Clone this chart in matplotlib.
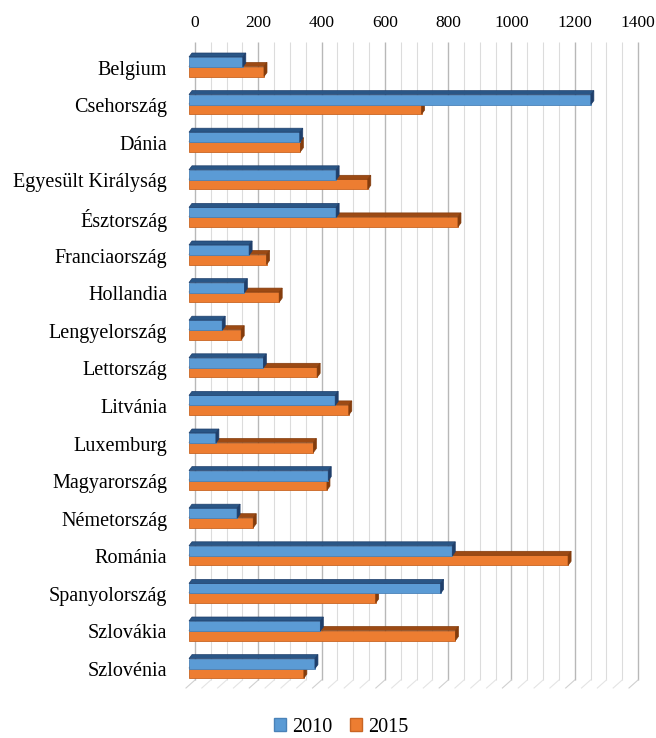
import numpy as np
import matplotlib.pyplot as plt
from matplotlib.patches import Polygon, Patch

plt.rcParams['font.family'] = ['Liberation Serif', 'DejaVu Serif']

orszagok = ['Belgium', 'Csehország', 'Dánia', 'Egyesült Királyság', 'Észtország',
            'Franciaország', 'Hollandia', 'Lengyelország', 'Lettország', 'Litvánia',
            'Luxemburg', 'Magyarország', 'Németország', 'Románia', 'Spanyolország',
            'Szlovákia', 'Szlovénia']
ev_2010 = [170, 1270, 350, 465, 465, 190, 175, 105, 235, 462, 85, 440, 152, 832, 795, 415, 398]
ev_2015 = [237, 735, 352, 565, 850, 245, 285, 165, 405, 505, 393, 436, 203, 1198, 590, 842, 363]
evek = ['2010', '2015']
x_ticks = list(range(0, 1401, 200))

W, H = 656, 738
fig = plt.figure(figsize=(W / 100, H / 100), dpi=100)

# axes box in pixels: value 0 at x=195, 1400 at x=638, top y=40, bottom y=690
ax_left, ax_right, ax_top, ax_bot = 195, 638, 40, 690
ax = fig.add_axes([ax_left / W, 1 - ax_bot / H, (ax_right - ax_left) / W, (ax_bot - ax_top) / H])

row_px = 37.6
xmax = 1400
ax.set_xlim(0, xmax)
ymin = -(66.5 - ax_top) / row_px
ymax = ymin + (ax_bot - ax_top) / row_px
ax.set_ylim(ymax, ymin)

# pixel -> data unit helpers for the 3D offsets
px_x = xmax / (ax_right - ax_left)
px_y = 1 / row_px

# back wall gridlines with a short slanted floor segment
grid_bottom = ymin + (680 - ax_top) * px_y
for v in range(0, xmax + 1, 50):
    major = v % 200 == 0
    col = '#b8b8b8' if major else '#dcdcdc'
    lw = 1.0 if major else 0.8
    ax.plot([v, v], [ymin + 1.5 * px_y, grid_bottom], color=col, lw=lw, zorder=1, solid_capstyle='butt',
            clip_on=False)
    ax.plot([v, v - 9 * px_x], [grid_bottom, grid_bottom + 8 * px_y], color='#d0d0d0' if major else '#e4e4e4',
            lw=0.8, zorder=1, clip_on=False)

front_off = 6 * px_x
depth_x = 3 * px_x
depth_y = 4 * px_y
bar_h = 10 * px_y

styles = {
    '2010': dict(face='#5b9bd5', edge='#4a82b8', top='#2a5686', dark='#1f3f6b'),
    '2015': dict(face='#ed7d31', edge='#c96523', top='#9c4a14', dark='#843c0c'),
}


def draw_bars(vals, offset, st, z):
    y_top = np.arange(len(vals)) + offset
    bars = ax.barh(y_top, vals, height=bar_h, left=-front_off, align='edge',
                   color=st['face'], edgecolor=st['edge'], linewidth=0.6, zorder=z)
    for b in bars:
        b.set_clip_on(False)
    for yt, v in zip(y_top, vals):
        x0, x1 = -front_off, v - front_off
        top = Polygon([(x0, yt), (x0 + depth_x, yt - depth_y), (x1 + depth_x, yt - depth_y), (x1, yt)],
                      closed=True, facecolor=st['top'], edgecolor=st['dark'], lw=0.5, zorder=z, clip_on=False)
        side = Polygon([(x1, yt), (x1 + depth_x, yt - depth_y), (x1 + depth_x, yt + bar_h - depth_y),
                        (x1, yt + bar_h)],
                       closed=True, facecolor=st['dark'], edgecolor=st['dark'], lw=0.5, zorder=z, clip_on=False)
        ax.add_patch(top)
        ax.add_patch(side)


draw_bars(ev_2015, 0, styles['2015'], 3)
draw_bars(ev_2010, -9.5 * px_y, styles['2010'], 4)

ax.xaxis.tick_top()
ax.set_xticks(x_ticks)
ax.set_xticklabels([str(t) for t in x_ticks], fontsize=12.5)
ax.tick_params(axis='x', length=0, pad=6.5)
ax.set_yticks(np.arange(len(orszagok)) + 1 * px_y)
ax.set_yticklabels(orszagok, fontsize=14.5)
ax.tick_params(axis='y', length=0, pad=20)
for s in ax.spines.values():
    s.set_visible(False)
ax.set_facecolor('none')

handles = [Patch(facecolor=styles[e]['face'], edgecolor=styles[e]['edge'], label=e) for e in evek]
fig.legend(handles=handles, loc='center', bbox_to_anchor=(341 / W, 1 - 727 / H), ncol=2, frameon=False,
           fontsize=14.5, handlelength=0.6, handleheight=0.6, handletextpad=0.3, columnspacing=0.9)

fig.savefig('out.png', dpi=100)
